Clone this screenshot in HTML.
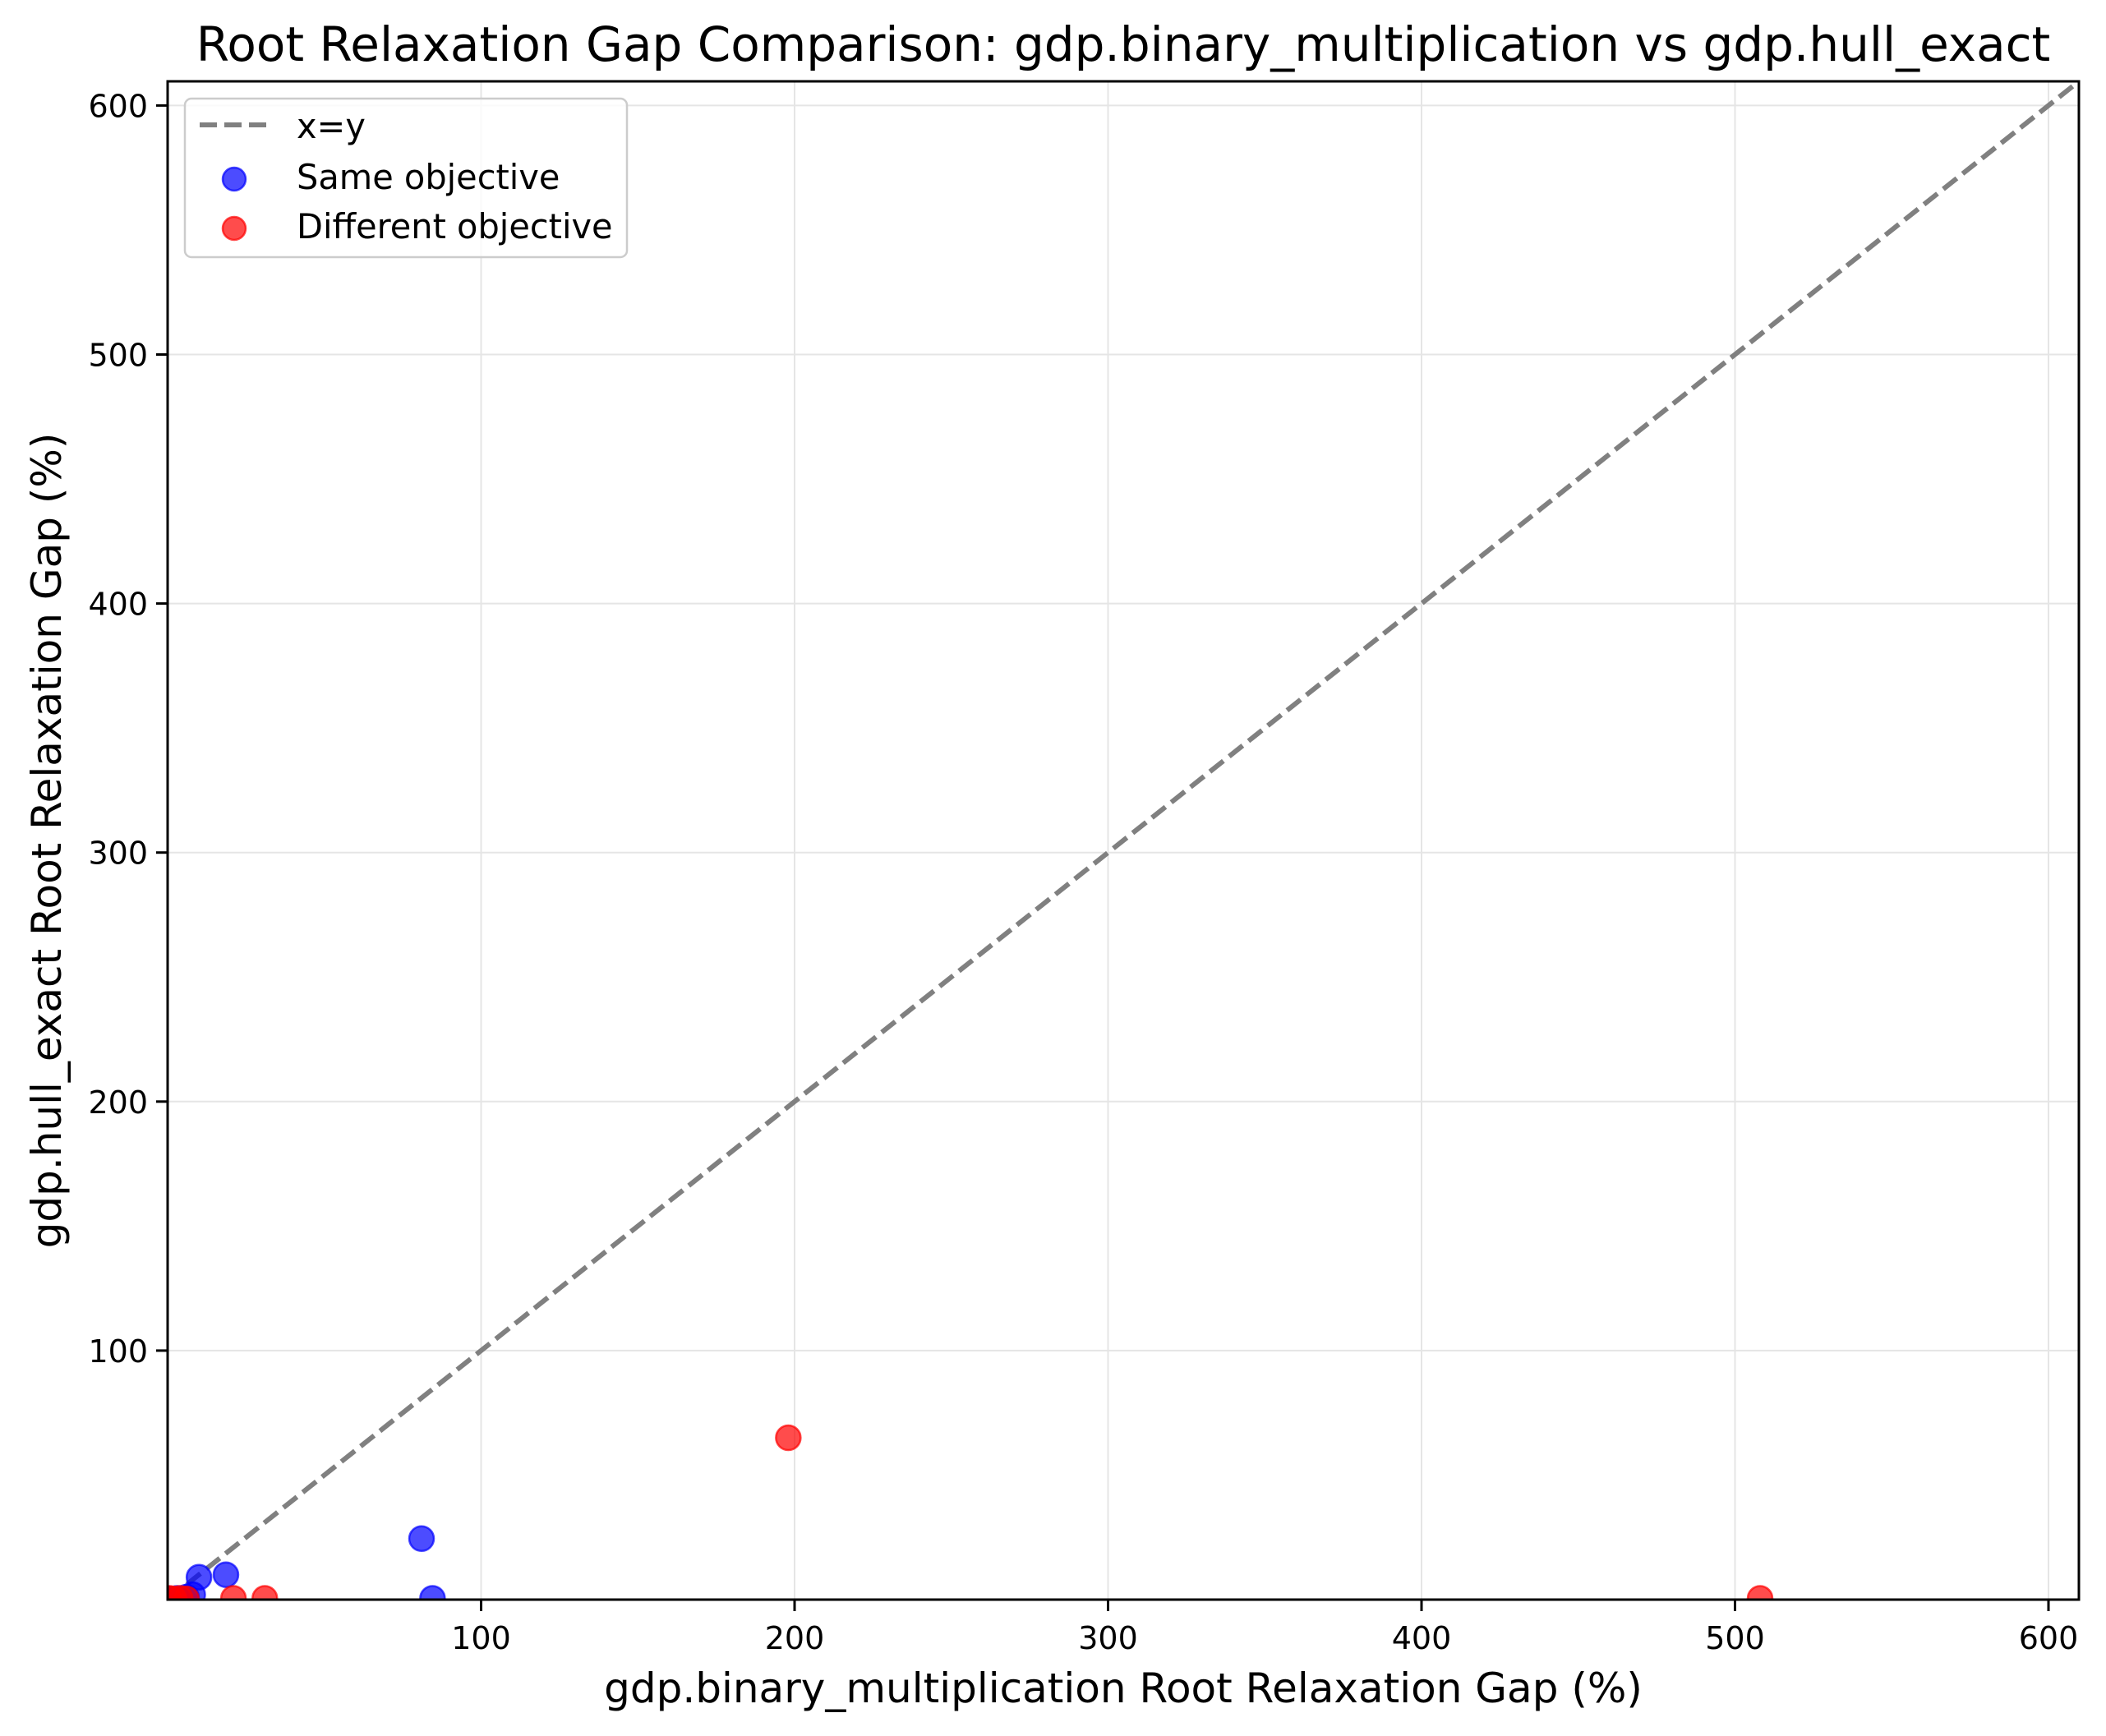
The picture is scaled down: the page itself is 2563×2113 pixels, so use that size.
<!DOCTYPE html>
<html><head><meta charset="utf-8"><style>
html,body{margin:0;padding:0;background:#fff}
svg{display:block;font-family:"DejaVu Sans","Liberation Sans",sans-serif}
</style></head><body>
<svg id="chart" width="2563" height="2113" viewBox="0 0 2563 2113" xmlns="http://www.w3.org/2000/svg">
<defs><clipPath id="plotclip"><rect x="204" y="99" width="2326" height="1848"/></clipPath></defs>
<rect width="2563" height="2113" fill="#fff"/>
<g id="grid"></g>
<g id="marks" clip-path="url(#plotclip)"></g>
<rect x="204" y="99" width="2326" height="1848" fill="none" stroke="#000" stroke-width="3"/>
<g id="ticks"></g>
<text x="1367" y="74" font-size="58" text-anchor="middle">Root Relaxation Gap Comparison: gdp.binary_multiplication vs gdp.hull_exact</text>
<text x="1367" y="2072" font-size="50" text-anchor="middle">gdp.binary_multiplication Root Relaxation Gap (%)</text>
<text x="0" y="0" font-size="50" text-anchor="middle" transform="translate(74,1023) rotate(-90)">gdp.hull_exact Root Relaxation Gap (%)</text>
<g>
<rect x="225" y="120" width="538" height="193" rx="8" fill="#fff" fill-opacity="0.8" stroke="#ccc" stroke-width="2.5"/>
<line x1="243" y1="152" x2="326" y2="152" stroke="#808080" stroke-width="6" stroke-dasharray="21,9"/>
<text x="361" y="168" font-size="41.5">x=y</text>
<circle cx="285" cy="218" r="14" fill="#0000ff" fill-opacity="0.7" stroke="#0000ff" stroke-opacity="0.7" stroke-width="2.5"/>
<text x="361" y="230" font-size="41.5">Same objective</text>
<circle cx="285" cy="278" r="14" fill="#ff0000" fill-opacity="0.7" stroke="#ff0000" stroke-opacity="0.7" stroke-width="2.5"/>
<text x="361" y="290" font-size="41.5">Different objective</text>
</g>
</svg>
<script>
const sameX = [0.5, 3, 6, 8, 10, 18.6, 81, 84.5];
const sameY = [0.3, 0.5, 1, 2, 9, 10, 24.5, 0.5];
const diffX = [0.5, 2, 4, 6, 21, 31, 198, 508];
const diffY = [0.5, 0.3, 0.5, 0.3, 0.5, 0.5, 65, 0.5];
const xTicks = [100, 200, 300, 400, 500, 600];
const yTicks = [100, 200, 300, 400, 500, 600];
const xMin = 0, xMax = 609.7, yMin = 0, yMax = 609.7;
const L = 204, R = 2530, T = 99, B = 1947;
const NS = 'http://www.w3.org/2000/svg';
function sx(v){ return L + (v - xMin) / (xMax - xMin) * (R - L); }
function sy(v){ return B - (v - yMin) / (yMax - yMin) * (B - T); }
function mk(tag, attrs, parent){ const e = document.createElementNS(NS, tag); for (const k in attrs) e.setAttribute(k, attrs[k]); parent.appendChild(e); return e; }
const grid = document.getElementById('grid'), marks = document.getElementById('marks'), ticks = document.getElementById('ticks');
xTicks.forEach(v => {
  const g = mk('line', {x1: sx(v), x2: sx(v), y1: T, y2: B, stroke: '#e5e5e5', 'stroke-width': 2}, grid);
  
  
  const t = mk('line', {x1: sx(v), x2: sx(v), y1: B, y2: B + 14, stroke: '#000', 'stroke-width': 3}, ticks);
  
  
  const l = mk('text', {x: sx(v), y: 2007, 'font-size': 38, 'text-anchor': 'middle'}, ticks);
  l.textContent = v;
  
  
});
yTicks.forEach(v => {
  const g = mk('line', {x1: L, x2: R, y1: sy(v), y2: sy(v), stroke: '#e5e5e5', 'stroke-width': 2}, grid);
  
  
  const t = mk('line', {x1: L - 14, x2: L, y1: sy(v), y2: sy(v), stroke: '#000', 'stroke-width': 3}, ticks);
  
  
  const l = mk('text', {x: L - 24, y: sy(v) + 14, 'font-size': 38, 'text-anchor': 'end'}, ticks);
  l.textContent = v;
  
  
});
const diag = mk('line', {x1: sx(0), y1: sy(0), x2: sx(xMax), y2: sy(yMax), stroke: '#808080', 'stroke-width': 6, 'stroke-dasharray': '21,9'}, marks);


function pts(xs, ys, col, name){
  xs.forEach((x, i) => {
    const c = mk('circle', {cx: sx(x), cy: sy(ys[i]), r: 15, fill: col, 'fill-opacity': 0.7, stroke: col, 'stroke-opacity': 0.7, 'stroke-width': 2.5}, marks);
    
    
  });
}
pts(sameX, sameY, '#0000ff', 'point-same-objective');
pts(diffX, diffY, '#ff0000', 'point-different-objective');
</script>
</body></html>
